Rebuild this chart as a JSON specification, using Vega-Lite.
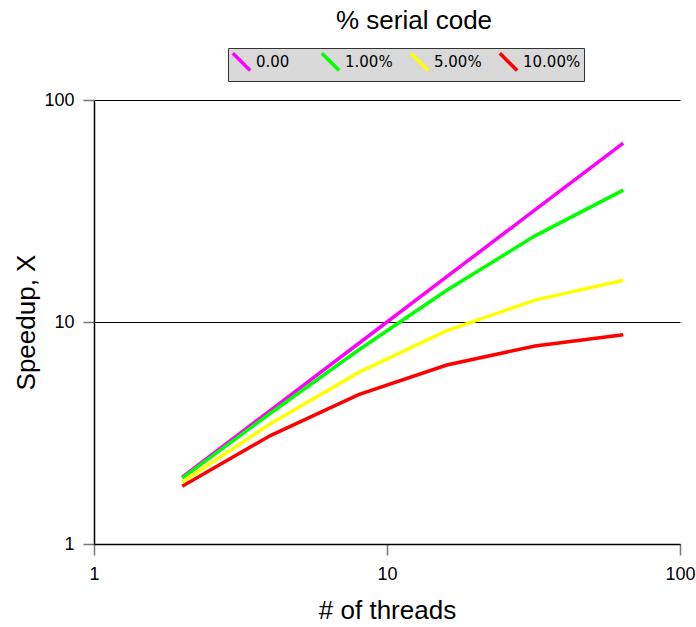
{
  "$schema": "https://vega.github.io/schema/vega-lite/v6.json",
  "width": 586,
  "height": 444,
  "autosize": {"type": "none"},
  "padding": {"left": 94, "top": 100, "right": 16, "bottom": 83},
  "background": "white",
  "title": {
    "text": "% serial code",
    "font": "Liberation Sans",
    "fontSize": 26,
    "fontWeight": "normal",
    "color": "black",
    "anchor": "middle",
    "frame": "group",
    "dx": 27,
    "offset": 14
  },
  "data": {
    "values": [
      {"threads": 2, "speedup": 2.0, "serial": "0.00"},
      {"threads": 4, "speedup": 4.0, "serial": "0.00"},
      {"threads": 8, "speedup": 8.0, "serial": "0.00"},
      {"threads": 16, "speedup": 16.0, "serial": "0.00"},
      {"threads": 32, "speedup": 32.0, "serial": "0.00"},
      {"threads": 64, "speedup": 64.0, "serial": "0.00"},
      {"threads": 2, "speedup": 1.98, "serial": "1.00%"},
      {"threads": 4, "speedup": 3.88, "serial": "1.00%"},
      {"threads": 8, "speedup": 7.48, "serial": "1.00%"},
      {"threads": 16, "speedup": 13.91, "serial": "1.00%"},
      {"threads": 32, "speedup": 24.43, "serial": "1.00%"},
      {"threads": 64, "speedup": 39.26, "serial": "1.00%"},
      {"threads": 2, "speedup": 1.9, "serial": "5.00%"},
      {"threads": 4, "speedup": 3.48, "serial": "5.00%"},
      {"threads": 8, "speedup": 5.93, "serial": "5.00%"},
      {"threads": 16, "speedup": 9.14, "serial": "5.00%"},
      {"threads": 32, "speedup": 12.55, "serial": "5.00%"},
      {"threads": 64, "speedup": 15.42, "serial": "5.00%"},
      {"threads": 2, "speedup": 1.82, "serial": "10.00%"},
      {"threads": 4, "speedup": 3.08, "serial": "10.00%"},
      {"threads": 8, "speedup": 4.71, "serial": "10.00%"},
      {"threads": 16, "speedup": 6.4, "serial": "10.00%"},
      {"threads": 32, "speedup": 7.8, "serial": "10.00%"},
      {"threads": 64, "speedup": 8.77, "serial": "10.00%"}
    ]
  },
  "mark": {"type": "line", "strokeWidth": 3.5, "clip": true},
  "encoding": {
    "x": {
      "field": "threads",
      "type": "quantitative",
      "scale": {"type": "log", "domain": [1, 100], "nice": false},
      "axis": {
        "title": "# of threads",
        "values": [1, 10, 100],
        "format": "d",
        "grid": false,
        "labelFlush": false,
        "domainColor": "black",
        "domainWidth": 1.5,
        "tickColor": "#777777",
        "tickSize": 11,
        "tickWidth": 1.5,
        "labelFont": "Liberation Sans",
        "labelFontSize": 18,
        "labelColor": "black",
        "labelPadding": 10,
        "titleFont": "Liberation Sans",
        "titleFontSize": 26,
        "titleFontWeight": "normal",
        "titleColor": "black",
        "titlePadding": 14
      }
    },
    "y": {
      "field": "speedup",
      "type": "quantitative",
      "scale": {"type": "log", "domain": [1, 100], "nice": false},
      "axis": {
        "title": "Speedup, X",
        "values": [1, 10, 100],
        "format": "d",
        "grid": true,
        "labelFlush": false,
        "gridColor": "black",
        "gridOpacity": 1,
        "gridWidth": 1,
        "domainColor": "black",
        "domainWidth": 1.5,
        "tickColor": "#777777",
        "tickSize": 11,
        "tickWidth": 1.5,
        "labelFont": "Liberation Sans",
        "labelFontSize": 18,
        "labelColor": "black",
        "labelPadding": 9,
        "titleFont": "Liberation Sans",
        "titleFontSize": 26,
        "titleFontWeight": "normal",
        "titleColor": "black",
        "titlePadding": 4
      }
    },
    "color": {
      "field": "serial",
      "type": "nominal",
      "sort": ["0.00", "1.00%", "5.00%", "10.00%"],
      "scale": {
        "domain": ["0.00", "1.00%", "5.00%", "10.00%"],
        "range": ["#ff00ff", "#00ff00", "#ffff00", "#ff0000"]
      },
      "legend": {
        "title": null,
        "orient": "none",
        "legendX": 134,
        "legendY": -52,
        "direction": "horizontal",
        "columns": 4,
        "gridAlign": "all",
        "fillColor": "#d9d9d9",
        "strokeColor": "#333333",
        "padding": 3,
        "symbolType": "M-1,-1L1,1",
        "symbolSize": 300,
        "symbolStrokeWidth": 3.5,
        "symbolOffset": 0,
        "labelFont": "DejaVu Sans",
        "labelFontSize": 15,
        "labelColor": "black",
        "labelOffset": 4,
        "columnPadding": 0
      }
    }
  },
  "config": {
    "view": {"stroke": null}
  }
}
